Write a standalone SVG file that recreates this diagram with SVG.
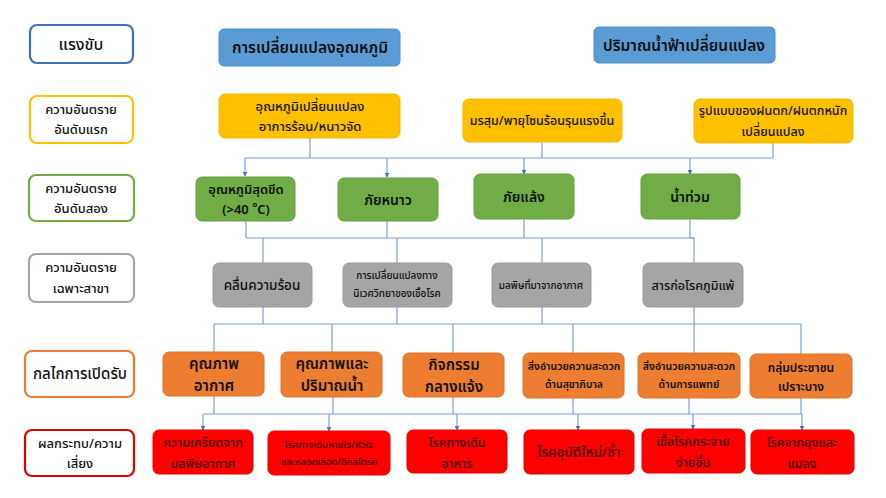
<svg xmlns="http://www.w3.org/2000/svg" width="886" height="498" viewBox="0 0 886 498">
<defs>
<marker id="arr" viewBox="0 0 8 8" refX="7" refY="4" markerWidth="5" markerHeight="5" orient="auto" markerUnits="userSpaceOnUse">
<path d="M0,0 L8,4 L0,8 z" fill="#4472C4"/>
</marker>
<style>
text{font-family:"Noto Sans Thai","Noto Sans","DejaVu Sans",sans-serif;fill:#111;text-anchor:middle;dominant-baseline:central;font-weight:500}
.lab rect{fill:#fff;stroke-width:2.2}
.b rect{fill:#5B9BD5;stroke:#4F8CC4;stroke-width:1}
.b text,.o text,.g text{font-weight:600}
.y rect{fill:#FFC000;stroke:#F2B700;stroke-width:1}
.g rect{fill:#70AD47;stroke:#64A03E;stroke-width:1}
.gr rect{fill:#A5A5A5;stroke:#999;stroke-width:1}
.o rect{fill:#ED7D31;stroke:#E0722A;stroke-width:1}
.r rect{fill:#FF0000;stroke:#E60000;stroke-width:1}
.r text{fill:#3a0000}
#conn path{fill:none;stroke:#7E9ED6;stroke-width:1.2}
#conn .a{marker-end:url(#arr)}
</style>
</defs>
<rect width="886" height="498" fill="#fff"/>

<!-- left labels -->
<g id="lab1" class="lab"><rect x="30" y="25" width="103" height="38" rx="7" stroke="#3F6FBF"/><text x="81" y="45" font-size="16">แรงขับ</text></g>
<g id="lab2" class="lab"><rect x="30" y="96" width="103" height="47" rx="7" stroke="#FFC000"/><text x="81" y="110" font-size="13">ความอันตราย</text><text x="81" y="130" font-size="13">อันดับแรก</text></g>
<g id="lab3" class="lab"><rect x="29" y="175" width="105" height="46" rx="7" stroke="#70AD47"/><text x="81" y="189" font-size="13">ความอันตราย</text><text x="81" y="209" font-size="13">อันดับสอง</text></g>
<g id="lab4" class="lab"><rect x="29" y="254" width="105" height="48" rx="7" stroke="#A5A5A5"/><text x="81" y="268" font-size="13">ความอันตราย</text><text x="81" y="289" font-size="13">เฉพาะสาขา</text></g>
<g id="lab5" class="lab"><rect x="25" y="351" width="109" height="46" rx="7" stroke="#ED7D31"/><text x="80" y="374" font-size="15">กลไกการเปิดรับ</text></g>
<g id="lab6" class="lab"><rect x="25" y="430" width="109" height="46" rx="7" stroke="#E00000"/><text x="80" y="444" font-size="13">ผลกระทบ/ความ</text><text x="80" y="464" font-size="13">เสี่ยง</text></g>

<!-- connectors -->
<g id="conn">
<path d="M310,138 V158"/>
<path d="M542,143 V158"/>
<path d="M773,143 V158"/>
<path d="M245,158 H773"/>
<path class="a" d="M245,158 V176"/>
<path class="a" d="M387,158 V177"/>
<path class="a" d="M524,158 V174"/>
<path class="a" d="M690,158 V174"/>

<path d="M246,221 V238"/>
<path d="M387,221 V238"/>
<path d="M524,219 V238"/>
<path d="M690,219 V238 H694"/>
<path d="M246,238 H694"/>
<path d="M263,238 V263"/>
<path d="M397,238 V263"/>
<path d="M542,238 V263"/>
<path d="M694,238 V263"/>

<path d="M263,307 V324"/>
<path d="M397,307 V324"/>
<path d="M542,307 V324"/>
<path d="M214,324 H801"/>
<path d="M214,324 V352"/>
<path d="M332,324 V352"/>
<path d="M453,324 V353"/>
<path d="M573,324 V353"/>
<path d="M694,307 V353"/>
<path d="M801,324 V354"/>

<path d="M214,396 V414"/>
<path d="M333,397 V414"/>
<path d="M453,397 V414"/>
<path d="M573,398 V414"/>
<path d="M689,398 V414"/>
<path d="M801,398 V414"/>
<path d="M203,414 H802"/>
<path class="a" d="M203,414 V430"/>
<path class="a" d="M329,414 V431"/>
<path class="a" d="M457,414 V430"/>
<path class="a" d="M578,414 V430"/>
<path class="a" d="M693,414 V429"/>
<path class="a" d="M802,414 V430"/>
</g>

<!-- drivers -->
<g id="d1" class="b"><rect x="219" y="29" width="181" height="37" rx="5"/><text x="310" y="48" font-size="15.5">การเปลี่ยนแปลงอุณหภูมิ</text></g>
<g id="d2" class="b"><rect x="594" y="27" width="181" height="36" rx="5"/><text x="684" y="46" font-size="15.5">ปริมาณน้ำฟ้าเปลี่ยนแปลง</text></g>

<!-- primary hazards -->
<g id="p1" class="y"><rect x="219" y="94" width="181" height="44" rx="6"/><text x="310" y="107" font-size="13">อุณหภูมิเปลี่ยนแปลง</text><text x="310" y="127" font-size="13">อาการร้อน/หนาวจัด</text></g>
<g id="p2" class="y"><rect x="463" y="99" width="159" height="43" rx="6"/><text x="542" y="121" font-size="12.5">มรสุม/พายุโซนร้อนรุนแรงขึ้น</text></g>
<g id="p3" class="y"><rect x="694" y="99" width="159" height="44" rx="6"/><text x="773" y="111" font-size="12.5">รูปแบบของฝนตก/ฝนตกหนัก</text><text x="773" y="132" font-size="12.5">เปลี่ยนแปลง</text></g>

<!-- secondary hazards -->
<g id="s1" class="g"><rect x="196" y="177" width="99" height="44" rx="6"/><text x="246" y="190" font-size="13">อุณหภูมิสุดขีด</text><text x="246" y="210" font-size="13">(&gt;40 <tspan font-size="12" dy="-2">°</tspan><tspan dy="2">C)</tspan></text></g>
<g id="s2" class="g"><rect x="338" y="178" width="100" height="43" rx="6"/><text x="388" y="200" font-size="14">ภัยหนาว</text></g>
<g id="s3" class="g"><rect x="474" y="174" width="100" height="45" rx="6"/><text x="524" y="197" font-size="14">ภัยแล้ง</text></g>
<g id="s4" class="g"><rect x="641" y="174" width="99" height="45" rx="6"/><text x="690" y="197" font-size="14">น้ำท่วม</text></g>

<!-- sector hazards -->
<g id="h1" class="gr"><rect x="213" y="263" width="99" height="44" rx="6"/><text x="262" y="286" font-size="13.5">คลื่นความร้อน</text></g>
<g id="h2" class="gr"><rect x="343" y="263" width="109" height="44" rx="6"/><text x="397" y="276" font-size="10">การเปลี่ยนแปลงทาง</text><text x="397" y="294" font-size="10">นิเวศวิทยาของเชื้อโรค</text></g>
<g id="h3" class="gr"><rect x="492" y="263" width="99" height="44" rx="6"/><text x="541" y="286" font-size="10">มลพิษที่มาจากอากาศ</text></g>
<g id="h4" class="gr"><rect x="643" y="263" width="100" height="44" rx="6"/><text x="693" y="286" font-size="12.5">สารก่อโรคภูมิแพ้</text></g>

<!-- exposure -->
<g id="e1" class="o"><rect x="163" y="352" width="101" height="44" rx="6"/><text x="214" y="364" font-size="15">คุณภาพ</text><text x="214" y="386" font-size="15">อากาศ</text></g>
<g id="e2" class="o"><rect x="281" y="352" width="101" height="45" rx="6"/><text x="332" y="364" font-size="15">คุณภาพและ</text><text x="332" y="386" font-size="15">ปริมาณน้ำ</text></g>
<g id="e3" class="o"><rect x="403" y="353" width="101" height="44" rx="6"/><text x="454" y="365" font-size="15">กิจกรรม</text><text x="454" y="387" font-size="15">กลางแจ้ง</text></g>
<g id="e4" class="o"><rect x="523" y="353" width="101" height="45" rx="6"/><text x="574" y="367" font-size="10.5">สิ่งอำนวยความสะดวก</text><text x="574" y="385" font-size="10.5">ด้านสุขาภิบาล</text></g>
<g id="e5" class="o"><rect x="638" y="353" width="102" height="45" rx="6"/><text x="689" y="367" font-size="10.5">สิ่งอำนวยความสะดวก</text><text x="689" y="385" font-size="10.5">ด้านการแพทย์</text></g>
<g id="e6" class="o"><rect x="750" y="354" width="102" height="44" rx="6"/><text x="801" y="368" font-size="12">กลุ่มประชาชน</text><text x="801" y="387" font-size="12">เปราะบาง</text></g>

<!-- impacts -->
<g id="i1" class="r"><rect x="153" y="430" width="100" height="44" rx="6"/><text x="203" y="443" font-size="12.5">ความเครียดจาก</text><text x="203" y="464" font-size="12.5">มลพิษอากาศ</text></g>
<g id="i2" class="r"><rect x="268" y="431" width="122" height="44" rx="6"/><text x="329" y="445" font-size="9.5">โรคทางเดินหายใจ/หัวใจ</text><text x="329" y="462" font-size="9.5">และหลอดเลือด/ฮีทสโตรก</text></g>
<g id="i3" class="r"><rect x="407" y="430" width="100" height="43" rx="6"/><text x="457" y="443" font-size="12.5">โรคทางเดิน</text><text x="457" y="464" font-size="12.5">อาหาร</text></g>
<g id="i4" class="r"><rect x="524" y="430" width="110" height="44" rx="6"/><text x="579" y="453" font-size="13.5">โรคอุบัติใหม่/ซ้ำ</text></g>
<g id="i5" class="r"><rect x="642" y="429" width="103" height="44" rx="6"/><text x="693" y="442" font-size="12.5">เชื้อโรคกระจาย</text><text x="693" y="463" font-size="12.5">ง่ายขึ้น</text></g>
<g id="i6" class="r"><rect x="751" y="430" width="103" height="44" rx="6"/><text x="802" y="443" font-size="12.5">โรคจากยุงและ</text><text x="802" y="464" font-size="12.5">แมลง</text></g>
</svg>
